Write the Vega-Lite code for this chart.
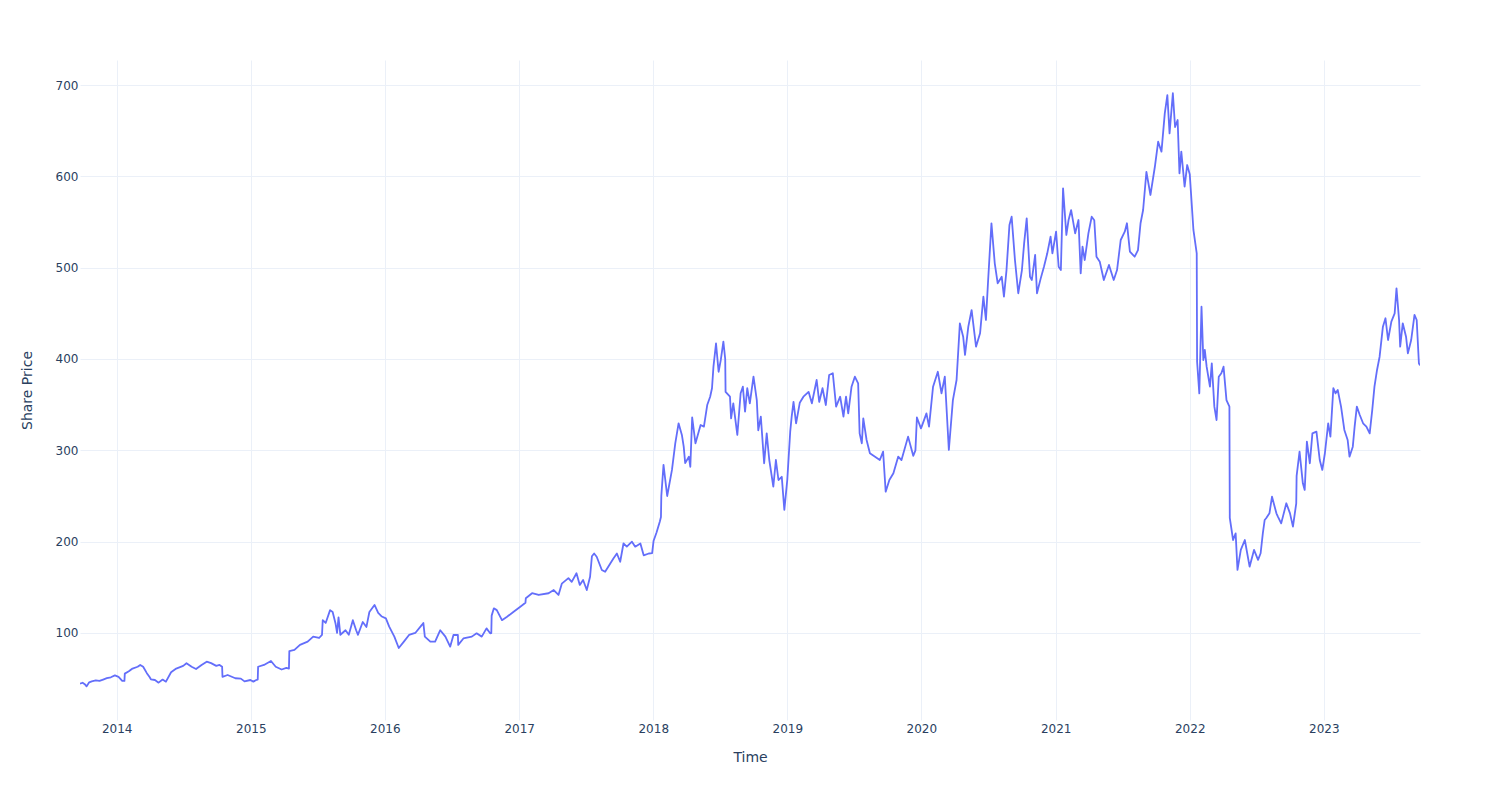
{
  "$schema": "https://vega.github.io/schema/vega-lite/v6.json",
  "width": 1340,
  "height": 660,
  "autosize": {"type": "none"},
  "padding": {"left": 80, "top": 60, "right": 80, "bottom": 80},
  "background": "white",
  "config": {
    "view": {"stroke": null},
    "axis": {
      "domain": false,
      "ticks": false,
      "gridColor": "#EBF0F8",
      "gridWidth": 1,
      "labelColor": "#2a3f5f",
      "labelFont": "DejaVu Sans",
      "labelFontSize": 12,
      "titleColor": "#2a3f5f",
      "titleFont": "DejaVu Sans",
      "titleFontSize": 14,
      "titleFontWeight": "normal"
    }
  },
  "data": {
    "values": [
      {"Date": "2013-09-23", "Price": 44.5}, {"Date": "2013-09-30", "Price": 45.5}, {"Date": "2013-10-07", "Price": 43.5}, {"Date": "2013-10-11", "Price": 41.5},
      {"Date": "2013-10-18", "Price": 46}, {"Date": "2013-10-25", "Price": 47}, {"Date": "2013-11-05", "Price": 48}, {"Date": "2013-11-15", "Price": 47.5},
      {"Date": "2013-11-25", "Price": 49}, {"Date": "2013-12-05", "Price": 50.5}, {"Date": "2013-12-16", "Price": 51.5}, {"Date": "2013-12-27", "Price": 53.5},
      {"Date": "2014-01-06", "Price": 52}, {"Date": "2014-01-16", "Price": 47.5}, {"Date": "2014-01-22", "Price": 47.5}, {"Date": "2014-01-23", "Price": 55.5},
      {"Date": "2014-02-03", "Price": 58}, {"Date": "2014-02-13", "Price": 61}, {"Date": "2014-02-27", "Price": 63}, {"Date": "2014-03-06", "Price": 65},
      {"Date": "2014-03-14", "Price": 63}, {"Date": "2014-03-24", "Price": 56}, {"Date": "2014-03-31", "Price": 52}, {"Date": "2014-04-04", "Price": 49.3},
      {"Date": "2014-04-15", "Price": 48.5}, {"Date": "2014-04-25", "Price": 45.6}, {"Date": "2014-05-06", "Price": 49}, {"Date": "2014-05-15", "Price": 46.7},
      {"Date": "2014-05-29", "Price": 57}, {"Date": "2014-06-12", "Price": 61}, {"Date": "2014-07-01", "Price": 64}, {"Date": "2014-07-10", "Price": 66.8},
      {"Date": "2014-07-24", "Price": 63}, {"Date": "2014-08-05", "Price": 60.5}, {"Date": "2014-08-20", "Price": 65}, {"Date": "2014-09-03", "Price": 68.6},
      {"Date": "2014-09-15", "Price": 67}, {"Date": "2014-09-29", "Price": 64}, {"Date": "2014-10-08", "Price": 65}, {"Date": "2014-10-15", "Price": 63},
      {"Date": "2014-10-16", "Price": 52}, {"Date": "2014-10-30", "Price": 54}, {"Date": "2014-11-20", "Price": 50.4}, {"Date": "2014-12-05", "Price": 50},
      {"Date": "2014-12-15", "Price": 47}, {"Date": "2014-12-31", "Price": 48.5}, {"Date": "2015-01-08", "Price": 46.7}, {"Date": "2015-01-16", "Price": 48.5},
      {"Date": "2015-01-20", "Price": 49}, {"Date": "2015-01-21", "Price": 63}, {"Date": "2015-02-06", "Price": 65}, {"Date": "2015-02-25", "Price": 69.3},
      {"Date": "2015-03-10", "Price": 63}, {"Date": "2015-03-26", "Price": 60}, {"Date": "2015-04-08", "Price": 61.7}, {"Date": "2015-04-15", "Price": 61},
      {"Date": "2015-04-16", "Price": 80}, {"Date": "2015-04-30", "Price": 81.4}, {"Date": "2015-05-15", "Price": 87}, {"Date": "2015-06-05", "Price": 90.5},
      {"Date": "2015-06-20", "Price": 96}, {"Date": "2015-07-06", "Price": 94.5}, {"Date": "2015-07-14", "Price": 98}, {"Date": "2015-07-16", "Price": 114},
      {"Date": "2015-07-24", "Price": 111}, {"Date": "2015-08-05", "Price": 125}, {"Date": "2015-08-12", "Price": 123}, {"Date": "2015-08-20", "Price": 110},
      {"Date": "2015-08-24", "Price": 100}, {"Date": "2015-08-28", "Price": 117}, {"Date": "2015-09-02", "Price": 98}, {"Date": "2015-09-16", "Price": 103},
      {"Date": "2015-09-25", "Price": 98}, {"Date": "2015-10-06", "Price": 114}, {"Date": "2015-10-15", "Price": 103}, {"Date": "2015-10-20", "Price": 98},
      {"Date": "2015-11-02", "Price": 112}, {"Date": "2015-11-12", "Price": 106.6}, {"Date": "2015-11-20", "Price": 123}, {"Date": "2015-12-04", "Price": 130.7},
      {"Date": "2015-12-14", "Price": 122}, {"Date": "2015-12-24", "Price": 118}, {"Date": "2016-01-04", "Price": 116}, {"Date": "2016-01-13", "Price": 107},
      {"Date": "2016-01-27", "Price": 96}, {"Date": "2016-02-08", "Price": 83.5}, {"Date": "2016-02-22", "Price": 90.5}, {"Date": "2016-03-07", "Price": 97.8},
      {"Date": "2016-03-24", "Price": 100}, {"Date": "2016-04-11", "Price": 108.8}, {"Date": "2016-04-15", "Price": 111}, {"Date": "2016-04-19", "Price": 96},
      {"Date": "2016-05-04", "Price": 90.5}, {"Date": "2016-05-17", "Price": 90.5}, {"Date": "2016-05-31", "Price": 103}, {"Date": "2016-06-14", "Price": 96},
      {"Date": "2016-06-27", "Price": 85}, {"Date": "2016-07-06", "Price": 97.8}, {"Date": "2016-07-18", "Price": 98}, {"Date": "2016-07-19", "Price": 86.9},
      {"Date": "2016-08-02", "Price": 94}, {"Date": "2016-08-25", "Price": 96}, {"Date": "2016-09-07", "Price": 99.6}, {"Date": "2016-09-21", "Price": 96},
      {"Date": "2016-10-04", "Price": 105}, {"Date": "2016-10-14", "Price": 99.6}, {"Date": "2016-10-17", "Price": 99.8}, {"Date": "2016-10-18", "Price": 119},
      {"Date": "2016-10-24", "Price": 127}, {"Date": "2016-11-01", "Price": 125}, {"Date": "2016-11-15", "Price": 114}, {"Date": "2016-11-29", "Price": 117.8},
      {"Date": "2016-12-16", "Price": 123}, {"Date": "2017-01-04", "Price": 128.8}, {"Date": "2017-01-18", "Price": 133}, {"Date": "2017-01-19", "Price": 138},
      {"Date": "2017-02-05", "Price": 143.5}, {"Date": "2017-02-23", "Price": 141.6}, {"Date": "2017-03-22", "Price": 143.5}, {"Date": "2017-04-05", "Price": 147},
      {"Date": "2017-04-18", "Price": 141.6}, {"Date": "2017-04-27", "Price": 154}, {"Date": "2017-05-15", "Price": 160}, {"Date": "2017-05-24", "Price": 156},
      {"Date": "2017-06-06", "Price": 165.4}, {"Date": "2017-06-15", "Price": 152.6}, {"Date": "2017-06-24", "Price": 158}, {"Date": "2017-07-04", "Price": 147},
      {"Date": "2017-07-13", "Price": 161.6}, {"Date": "2017-07-18", "Price": 184}, {"Date": "2017-07-24", "Price": 187}, {"Date": "2017-07-31", "Price": 183.5},
      {"Date": "2017-08-14", "Price": 169}, {"Date": "2017-08-23", "Price": 167}, {"Date": "2017-09-06", "Price": 176}, {"Date": "2017-09-15", "Price": 181.8},
      {"Date": "2017-09-24", "Price": 187}, {"Date": "2017-10-03", "Price": 178}, {"Date": "2017-10-12", "Price": 198}, {"Date": "2017-10-21", "Price": 194.5},
      {"Date": "2017-11-04", "Price": 200}, {"Date": "2017-11-13", "Price": 194.5}, {"Date": "2017-11-27", "Price": 198}, {"Date": "2017-12-06", "Price": 185},
      {"Date": "2017-12-20", "Price": 187}, {"Date": "2017-12-29", "Price": 187.5}, {"Date": "2018-01-02", "Price": 201}, {"Date": "2018-01-10", "Price": 210},
      {"Date": "2018-01-19", "Price": 222}, {"Date": "2018-01-22", "Price": 227}, {"Date": "2018-01-23", "Price": 250}, {"Date": "2018-01-29", "Price": 284},
      {"Date": "2018-02-08", "Price": 250}, {"Date": "2018-02-21", "Price": 278.5}, {"Date": "2018-03-02", "Price": 307.7}, {"Date": "2018-03-11", "Price": 329.6},
      {"Date": "2018-03-20", "Price": 316.8}, {"Date": "2018-03-25", "Price": 304}, {"Date": "2018-03-29", "Price": 286}, {"Date": "2018-04-08", "Price": 293},
      {"Date": "2018-04-12", "Price": 282}, {"Date": "2018-04-17", "Price": 336}, {"Date": "2018-04-26", "Price": 307.7}, {"Date": "2018-05-10", "Price": 327.7},
      {"Date": "2018-05-19", "Price": 326}, {"Date": "2018-05-28", "Price": 349.6}, {"Date": "2018-06-05", "Price": 358.7}, {"Date": "2018-06-10", "Price": 368},
      {"Date": "2018-06-14", "Price": 391.6}, {"Date": "2018-06-21", "Price": 417}, {"Date": "2018-06-28", "Price": 386}, {"Date": "2018-07-04", "Price": 399},
      {"Date": "2018-07-11", "Price": 419}, {"Date": "2018-07-16", "Price": 400}, {"Date": "2018-07-17", "Price": 364}, {"Date": "2018-07-29", "Price": 358.7},
      {"Date": "2018-08-01", "Price": 335}, {"Date": "2018-08-07", "Price": 351.5}, {"Date": "2018-08-18", "Price": 316.8}, {"Date": "2018-08-27", "Price": 362.5},
      {"Date": "2018-09-02", "Price": 369.7}, {"Date": "2018-09-08", "Price": 342.4}, {"Date": "2018-09-14", "Price": 368}, {"Date": "2018-09-21", "Price": 351.5},
      {"Date": "2018-10-01", "Price": 380.6}, {"Date": "2018-10-10", "Price": 355}, {"Date": "2018-10-14", "Price": 322}, {"Date": "2018-10-21", "Price": 336.8},
      {"Date": "2018-10-30", "Price": 285.8}, {"Date": "2018-11-06", "Price": 318.6}, {"Date": "2018-11-13", "Price": 289.4}, {"Date": "2018-11-24", "Price": 260.2},
      {"Date": "2018-12-01", "Price": 289.4}, {"Date": "2018-12-08", "Price": 267.5}, {"Date": "2018-12-17", "Price": 271}, {"Date": "2018-12-24", "Price": 234.7},
      {"Date": "2019-01-01", "Price": 267.5}, {"Date": "2019-01-09", "Price": 320.4}, {"Date": "2019-01-13", "Price": 336.8}, {"Date": "2019-01-18", "Price": 353},
      {"Date": "2019-01-25", "Price": 329.6}, {"Date": "2019-02-04", "Price": 352}, {"Date": "2019-02-14", "Price": 358.7}, {"Date": "2019-02-28", "Price": 364},
      {"Date": "2019-03-09", "Price": 351.5}, {"Date": "2019-03-22", "Price": 377}, {"Date": "2019-03-29", "Price": 353}, {"Date": "2019-04-07", "Price": 368},
      {"Date": "2019-04-16", "Price": 349.6}, {"Date": "2019-04-25", "Price": 382.5}, {"Date": "2019-05-05", "Price": 384.4}, {"Date": "2019-05-14", "Price": 347.8},
      {"Date": "2019-05-25", "Price": 358.7}, {"Date": "2019-06-03", "Price": 336.8}, {"Date": "2019-06-10", "Price": 358.7}, {"Date": "2019-06-16", "Price": 340.5},
      {"Date": "2019-06-25", "Price": 369.7}, {"Date": "2019-07-04", "Price": 380.6}, {"Date": "2019-07-13", "Price": 373.4}, {"Date": "2019-07-17", "Price": 318.6},
      {"Date": "2019-07-23", "Price": 307.7}, {"Date": "2019-07-27", "Price": 335}, {"Date": "2019-08-05", "Price": 311.3}, {"Date": "2019-08-14", "Price": 296.8},
      {"Date": "2019-08-28", "Price": 293}, {"Date": "2019-09-10", "Price": 289.4}, {"Date": "2019-09-19", "Price": 298.5}, {"Date": "2019-09-26", "Price": 254.7},
      {"Date": "2019-10-06", "Price": 267.5}, {"Date": "2019-10-17", "Price": 274.9}, {"Date": "2019-10-30", "Price": 293}, {"Date": "2019-11-08", "Price": 289.4},
      {"Date": "2019-11-26", "Price": 315}, {"Date": "2019-12-10", "Price": 294}, {"Date": "2019-12-16", "Price": 300}, {"Date": "2019-12-20", "Price": 336},
      {"Date": "2019-12-31", "Price": 324}, {"Date": "2020-01-02", "Price": 326}, {"Date": "2020-01-15", "Price": 340.5}, {"Date": "2020-01-22", "Price": 326},
      {"Date": "2020-02-02", "Price": 369.7}, {"Date": "2020-02-15", "Price": 386}, {"Date": "2020-02-25", "Price": 362.5}, {"Date": "2020-03-05", "Price": 380.6},
      {"Date": "2020-03-16", "Price": 300.4}, {"Date": "2020-03-27", "Price": 355}, {"Date": "2020-04-06", "Price": 377}, {"Date": "2020-04-15", "Price": 439},
      {"Date": "2020-04-24", "Price": 424.4}, {"Date": "2020-04-29", "Price": 404.4}, {"Date": "2020-05-08", "Price": 435.4}, {"Date": "2020-05-17", "Price": 453.6},
      {"Date": "2020-05-29", "Price": 413.5}, {"Date": "2020-06-09", "Price": 428.1}, {"Date": "2020-06-18", "Price": 468.2}, {"Date": "2020-06-25", "Price": 442.7},
      {"Date": "2020-07-01", "Price": 486.5}, {"Date": "2020-07-10", "Price": 548.6}, {"Date": "2020-07-19", "Price": 504.8}, {"Date": "2020-07-27", "Price": 482.9},
      {"Date": "2020-08-07", "Price": 490}, {"Date": "2020-08-13", "Price": 468.2}, {"Date": "2020-08-20", "Price": 497.4}, {"Date": "2020-08-28", "Price": 546.7},
      {"Date": "2020-09-03", "Price": 555.8}, {"Date": "2020-09-12", "Price": 508.4}, {"Date": "2020-09-21", "Price": 472}, {"Date": "2020-10-01", "Price": 497.4},
      {"Date": "2020-10-07", "Price": 526.6}, {"Date": "2020-10-14", "Price": 554}, {"Date": "2020-10-23", "Price": 490}, {"Date": "2020-10-28", "Price": 486.5},
      {"Date": "2020-11-06", "Price": 513.9}, {"Date": "2020-11-11", "Price": 472}, {"Date": "2020-11-21", "Price": 488}, {"Date": "2020-11-30", "Price": 501},
      {"Date": "2020-12-09", "Price": 515.7}, {"Date": "2020-12-18", "Price": 534}, {"Date": "2020-12-23", "Price": 515.7}, {"Date": "2021-01-02", "Price": 539.4},
      {"Date": "2021-01-09", "Price": 501}, {"Date": "2021-01-15", "Price": 497.4}, {"Date": "2021-01-21", "Price": 586.9}, {"Date": "2021-01-30", "Price": 535.8},
      {"Date": "2021-02-05", "Price": 552.2}, {"Date": "2021-02-12", "Price": 563.1}, {"Date": "2021-02-23", "Price": 537.6}, {"Date": "2021-03-04", "Price": 552.2},
      {"Date": "2021-03-10", "Price": 493.8}, {"Date": "2021-03-15", "Price": 523}, {"Date": "2021-03-21", "Price": 508.4}, {"Date": "2021-03-31", "Price": 537.6},
      {"Date": "2021-04-09", "Price": 555.8}, {"Date": "2021-04-16", "Price": 552}, {"Date": "2021-04-22", "Price": 512}, {"Date": "2021-05-01", "Price": 506.5},
      {"Date": "2021-05-12", "Price": 486.5}, {"Date": "2021-05-26", "Price": 503}, {"Date": "2021-06-08", "Price": 486.5}, {"Date": "2021-06-17", "Price": 497.4},
      {"Date": "2021-06-27", "Price": 530.3}, {"Date": "2021-07-08", "Price": 539.4}, {"Date": "2021-07-14", "Price": 548.6}, {"Date": "2021-07-22", "Price": 517.5},
      {"Date": "2021-08-04", "Price": 512}, {"Date": "2021-08-13", "Price": 519.3}, {"Date": "2021-08-20", "Price": 548.6}, {"Date": "2021-08-27", "Price": 563.1},
      {"Date": "2021-09-05", "Price": 605}, {"Date": "2021-09-16", "Price": 579.6}, {"Date": "2021-09-28", "Price": 610.5}, {"Date": "2021-10-07", "Price": 637.9},
      {"Date": "2021-10-16", "Price": 627}, {"Date": "2021-10-25", "Price": 669}, {"Date": "2021-11-01", "Price": 689}, {"Date": "2021-11-07", "Price": 647},
      {"Date": "2021-11-16", "Price": 691}, {"Date": "2021-11-22", "Price": 654}, {"Date": "2021-11-29", "Price": 661.7}, {"Date": "2021-12-04", "Price": 603.3},
      {"Date": "2021-12-09", "Price": 627}, {"Date": "2021-12-18", "Price": 588.7}, {"Date": "2021-12-25", "Price": 612.4}, {"Date": "2022-01-01", "Price": 602.4},
      {"Date": "2022-01-11", "Price": 541.3}, {"Date": "2022-01-20", "Price": 515.7}, {"Date": "2022-01-21", "Price": 397}, {"Date": "2022-01-27", "Price": 362.4},
      {"Date": "2022-02-02", "Price": 457.3}, {"Date": "2022-02-07", "Price": 398.9}, {"Date": "2022-02-11", "Price": 409.9}, {"Date": "2022-02-16", "Price": 391.6},
      {"Date": "2022-02-25", "Price": 369.7}, {"Date": "2022-03-02", "Price": 395.3}, {"Date": "2022-03-09", "Price": 347.8}, {"Date": "2022-03-15", "Price": 333.2},
      {"Date": "2022-03-21", "Price": 380.6}, {"Date": "2022-03-28", "Price": 384.4}, {"Date": "2022-04-03", "Price": 391.6}, {"Date": "2022-04-11", "Price": 355},
      {"Date": "2022-04-19", "Price": 347.8}, {"Date": "2022-04-20", "Price": 226}, {"Date": "2022-04-29", "Price": 201.8}, {"Date": "2022-05-06", "Price": 209},
      {"Date": "2022-05-11", "Price": 169}, {"Date": "2022-05-20", "Price": 190.9}, {"Date": "2022-05-31", "Price": 201.8}, {"Date": "2022-06-13", "Price": 172.6},
      {"Date": "2022-06-25", "Price": 190.9}, {"Date": "2022-07-06", "Price": 180}, {"Date": "2022-07-13", "Price": 187.3}, {"Date": "2022-07-19", "Price": 209},
      {"Date": "2022-07-24", "Price": 223.7}, {"Date": "2022-07-28", "Price": 225.6}, {"Date": "2022-08-06", "Price": 231}, {"Date": "2022-08-13", "Price": 249.2},
      {"Date": "2022-08-25", "Price": 231}, {"Date": "2022-08-29", "Price": 227.4}, {"Date": "2022-09-07", "Price": 220}, {"Date": "2022-09-21", "Price": 242},
      {"Date": "2022-10-01", "Price": 231}, {"Date": "2022-10-09", "Price": 216.4}, {"Date": "2022-10-18", "Price": 242}, {"Date": "2022-10-19", "Price": 272},
      {"Date": "2022-10-27", "Price": 298.5}, {"Date": "2022-11-05", "Price": 263.9}, {"Date": "2022-11-10", "Price": 256.6}, {"Date": "2022-11-16", "Price": 309.5},
      {"Date": "2022-11-24", "Price": 285.8}, {"Date": "2022-12-01", "Price": 318.6}, {"Date": "2022-12-12", "Price": 320.4}, {"Date": "2022-12-21", "Price": 289.4},
      {"Date": "2022-12-28", "Price": 278.5}, {"Date": "2023-01-04", "Price": 296.8}, {"Date": "2023-01-13", "Price": 329.6}, {"Date": "2023-01-19", "Price": 315},
      {"Date": "2023-01-27", "Price": 368}, {"Date": "2023-02-02", "Price": 362.4}, {"Date": "2023-02-08", "Price": 366}, {"Date": "2023-02-17", "Price": 347.8},
      {"Date": "2023-02-26", "Price": 322.3}, {"Date": "2023-03-07", "Price": 311.3}, {"Date": "2023-03-12", "Price": 293}, {"Date": "2023-03-21", "Price": 304},
      {"Date": "2023-03-26", "Price": 326}, {"Date": "2023-04-01", "Price": 347.8}, {"Date": "2023-04-09", "Price": 338.7}, {"Date": "2023-04-18", "Price": 329.6},
      {"Date": "2023-04-27", "Price": 326}, {"Date": "2023-05-06", "Price": 318.6}, {"Date": "2023-05-13", "Price": 344.2}, {"Date": "2023-05-19", "Price": 369.7},
      {"Date": "2023-05-26", "Price": 388}, {"Date": "2023-06-02", "Price": 402.5}, {"Date": "2023-06-11", "Price": 435.4}, {"Date": "2023-06-18", "Price": 444.6},
      {"Date": "2023-06-25", "Price": 420.8}, {"Date": "2023-07-04", "Price": 440.9}, {"Date": "2023-07-13", "Price": 450}, {"Date": "2023-07-18", "Price": 477.4},
      {"Date": "2023-07-25", "Price": 442.7}, {"Date": "2023-07-28", "Price": 413.5}, {"Date": "2023-08-04", "Price": 439.1}, {"Date": "2023-08-13", "Price": 424.4},
      {"Date": "2023-08-18", "Price": 406.2}, {"Date": "2023-08-27", "Price": 420.8}, {"Date": "2023-09-05", "Price": 448.2}, {"Date": "2023-09-11", "Price": 442.7},
      {"Date": "2023-09-17", "Price": 395.3}, {"Date": "2023-09-20", "Price": 393}
    ]
  },
  "mark": {"type": "line", "color": "#636efa", "strokeWidth": 1.8, "strokeJoin": "round", "clip": true},
  "encoding": {
    "x": {
      "field": "Date",
      "type": "temporal",
      "title": "Time",
      "scale": {
        "type": "utc",
        "nice": false,
        "domain": [
          {"year": 2013, "month": 9, "date": 23, "utc": true},
          {"year": 2023, "month": 9, "date": 20, "utc": true}
        ]
      },
      "axis": {
        "format": "%Y",
        "tickCount": {"interval": "year", "step": 1},
        "labelPadding": 3,
        "titlePadding": 16,
        "labelFlush": false,
        "labelOverlap": false
      }
    },
    "y": {
      "field": "Price",
      "type": "quantitative",
      "title": "Share Price",
      "scale": {"domain": [4.7, 727.4], "nice": false, "zero": false},
      "axis": {
        "values": [100, 200, 300, 400, 500, 600, 700],
        "labelPadding": 2,
        "titlePadding": 21
      }
    }
  }
}
